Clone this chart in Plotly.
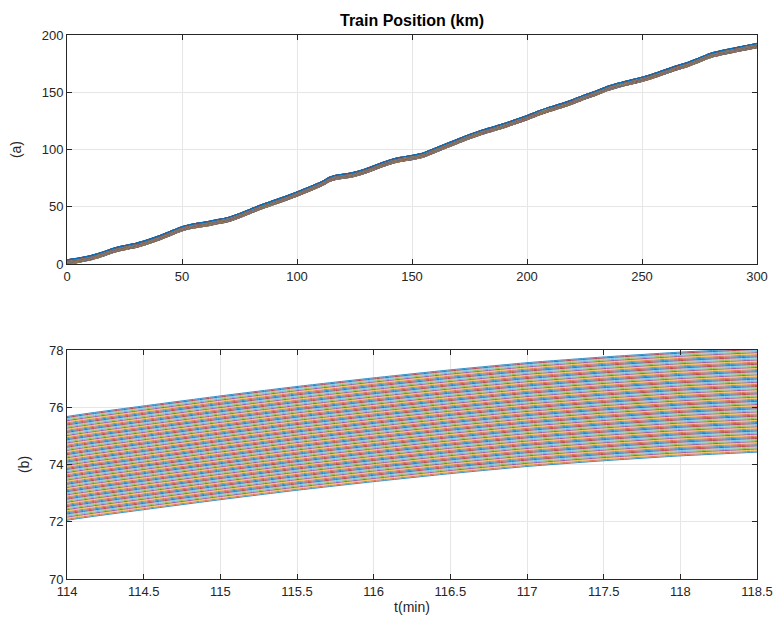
import plotly.graph_objects as go
from plotly.subplots import make_subplots

# Base trajectory of the first (lowest) train: time (min) and position (km)
base_t = [0, 5, 10, 15, 20, 25, 30, 35, 40, 45, 50, 55, 60, 65, 70, 75, 80, 85, 90, 95,
          100, 105, 110, 112, 113, 114, 114.5, 115, 115.5, 116, 116.5, 117, 117.5, 118,
          118.5, 119, 120, 122, 125, 130, 135, 140, 145, 150, 155, 160, 165, 170, 175,
          180, 185, 190, 195, 200, 205, 210, 215, 220, 225, 230, 235, 240, 245, 250, 255,
          260, 265, 270, 275, 280, 285, 290, 295, 300]
base_x = [0.0, 1.5, 3.5, 6.5, 10.0, 12.5, 14.5, 17.5, 21.0, 25.0, 29.0, 31.5, 33.0, 35.0,
          37.0, 40.5, 44.5, 48.5, 52.0, 55.5, 59.3, 63.4, 67.6, 69.6, 70.9, 72.05, 72.42,
          72.77, 73.1, 73.4, 73.68, 73.93, 74.13, 74.3, 74.43, 74.55, 74.8, 75.4, 76.6,
          79.6, 83.4, 87.0, 89.6, 91.2, 93.4, 97.5, 101.5, 105.5, 109.5, 113.0, 116.0,
          119.0, 122.5, 126.0, 130.0, 133.5, 136.5, 140.0, 144.0, 147.5, 151.5, 154.5,
          157.0, 159.5, 162.5, 166.0, 169.5, 172.5, 176.5, 180.5, 183.0, 185.0, 187.0,
          189.0]

# Position offset (km) of each train relative to the first one
offsets = [0.000, 0.037, 0.074, 0.111, 0.148, 0.185, 0.222, 0.259, 0.296, 0.333,
           0.370, 0.407, 0.444, 0.481, 0.518, 0.555, 0.592, 0.629, 0.666, 0.703,
           0.740, 0.777, 0.814, 0.851, 0.888, 0.925, 0.962, 0.999, 1.036, 1.073,
           1.110, 1.147, 1.184, 1.221, 1.258, 1.295, 1.332, 1.369, 1.406, 1.443,
           1.480, 1.517, 1.554, 1.591, 1.628, 1.665, 1.702, 1.739, 1.776, 1.813,
           1.850, 1.887, 1.924, 1.961, 1.998, 2.035, 2.072, 2.109, 2.146, 2.183,
           2.220, 2.257, 2.294, 2.331, 2.368, 2.405, 2.442, 2.479, 2.516, 2.553,
           2.590, 2.627, 2.664, 2.701, 2.738, 2.775, 2.812, 2.849, 2.886, 2.923,
           2.960, 2.997, 3.034, 3.071, 3.108, 3.145, 3.182, 3.219, 3.256, 3.293,
           3.330, 3.367, 3.404, 3.441, 3.478, 3.515, 3.552, 3.589, 3.626]

colors = ["#0072BD", "#D95319", "#EDB120", "#7E2F8E", "#77AC30", "#4DBEEE", "#A2142F"]

top_xticks = [0, 50, 100, 150, 200, 250, 300]
top_yticks = [0, 50, 100, 150, 200]
bot_xticks = [114, 114.5, 115, 115.5, 116, 116.5, 117, 117.5, 118, 118.5]
bot_yticks = [70, 72, 74, 76, 78]

FONT = "Liberation Sans, Arial, sans-serif"

fig = make_subplots(rows=2, cols=1, vertical_spacing=0.158)

for i, off in enumerate(offsets):
    ys = [v + off for v in base_x]
    c = colors[i % len(colors)]
    fig.add_trace(go.Scatter(x=base_t, y=ys, mode="lines",
                             line=dict(color=c, width=1.2, shape="spline", smoothing=0.5),
                             showlegend=False, hoverinfo="skip"), row=1, col=1)
    fig.add_trace(go.Scatter(x=base_t, y=ys, mode="lines",
                             line=dict(color=c, width=0.8, shape="spline", smoothing=0.5),
                             showlegend=False, hoverinfo="skip"), row=2, col=1)

axis_common = dict(showline=True, linecolor="#262626", linewidth=1, mirror="ticks",
                   ticks="inside", ticklen=5, tickcolor="#262626", automargin=False,
                   ticklabeloverflow="allow",
                   showgrid=True, gridcolor="#e6e6e6", gridwidth=1, zeroline=False,
                   tickfont=dict(family=FONT, size=13, color="#262626"))

fig.update_xaxes(range=[0, 300], tickvals=top_xticks, **axis_common, row=1, col=1)
fig.update_yaxes(range=[0, 200], tickvals=top_yticks, **axis_common, row=1, col=1,
                 title=dict(text="(a)", standoff=16,
                            font=dict(family=FONT, size=14, color="#262626")))
fig.update_xaxes(range=[114, 118.5], tickvals=bot_xticks,
                 ticktext=[("%g" % v) for v in bot_xticks], **axis_common, row=2, col=1,
                 title=dict(text="t(min)", standoff=4,
                            font=dict(family=FONT, size=14, color="#262626")))
fig.update_yaxes(range=[70, 78], tickvals=bot_yticks, **axis_common, row=2, col=1,
                 title=dict(text="(b)", standoff=16,
                            font=dict(family=FONT, size=14, color="#262626")))

fig.update_layout(
    width=779, height=626,
    margin=dict(l=67, r=22, t=35, b=47),
    paper_bgcolor="white", plot_bgcolor="white",
    title=dict(text="<b>Train Position (km)</b>", x=(67 + 757) / 2 / 779, xanchor="center",
               yref="container", y=1 - 20 / 626, yanchor="middle",
               font=dict(family=FONT, size=16, color="#000000")),
)

# Remove the default page-body margin so the figure fills the window exactly
fig.write_html("out.html",
               config={"displayModeBar": False},
               post_script="document.body.style.margin='0px';"
                           "document.body.style.overflow='hidden';")
